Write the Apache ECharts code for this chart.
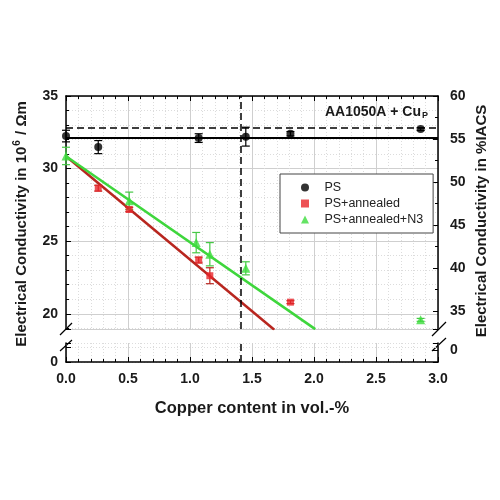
<!DOCTYPE html>
<html><head><meta charset="utf-8">
<script src="https://cdn.jsdelivr.net/npm/echarts@6/dist/echarts.min.js"></script>
<style>html,body{margin:0;padding:0;background:#fff}#c{width:500px;height:500px}</style>
</head><body><div id="c"></div>
<script>
// ---- data ----
// [copper vol.-%, conductivity 10^6/Ωm, error]
const psData  = [[0,32.24,0.4],[0.26,31.48,0.45],[1.07,32.1,0.3],[1.45,32.2,0.65],[1.81,32.4,0.15],[2.86,32.72,0.1]];
const annData = [[0.26,28.65,0.2],[0.51,27.18,0.15],[1.07,23.7,0.2],[1.16,22.62,0.55],[1.81,20.8,0.1]];
const n3Data  = [[0,30.87,0.6],[0.51,27.78,0.6],[1.05,24.9,0.7],[1.16,24.1,0.8],[1.45,23.13,0.45],[2.86,19.58,0.1]];
const annFit = [[0,30.85],[1.68,18.9]];
const n3Fit  = [[0,30.85],[2.01,18.94]];
const psMean = 32.13;
const psRef = 32.82;
const cuLimit = 1.41;
const seriesNames = ['PS','PS+annealed','PS+annealed+N3'];
const xLabelDigits = 1;

// ---- layout ----
const FONT = "'Liberation Sans', Arial, sans-serif";
const gL = 66, gR = 438, gT = 96, gB1 = 329, gT2 = 343, gB = 362;

const chart = echarts.init(document.getElementById('c'));

function errRender(color){
  return function(params, api){
    const x = api.value(0), y = api.value(1), e = api.value(2);
    const t = api.coord([x, y + e]), b = api.coord([x, y - e]);
    const w = 4, st = {stroke: color, lineWidth: 1.2};
    return {type:'group', children:[
      {type:'line', shape:{x1:t[0],y1:t[1],x2:b[0],y2:b[1]}, style:st},
      {type:'line', shape:{x1:t[0]-w,y1:t[1],x2:t[0]+w,y2:t[1]}, style:st},
      {type:'line', shape:{x1:b[0]-w,y1:b[1],x2:b[0]+w,y2:b[1]}, style:st}
    ]};
  };
}

const axisLine = {show:true, onZero:false, lineStyle:{color:'#000', width:1.5}};
const tick = {show:true, inside:true, length:5, lineStyle:{color:'#000', width:1}};
const minorTickX = {show:true, splitNumber:5, length:3, lineStyle:{color:'#000', width:1}};
const split = {show:true, lineStyle:{color:'#cfcfcf', width:1}};
const minorSplit = {show:true, lineStyle:{color:'#dcdcdc', width:1, type:[1,2]}};
const labelStyle = {fontSize:14, fontWeight:'bold', color:'#1a1a1a', fontFamily:FONT};

const option = {
  animation:false,
  backgroundColor:'#fff',
  grid:[
    {left:gL, top:gT, width:gR-gL, height:gB1-gT},
    {left:gL, top:gT2, width:gR-gL, height:gB-gT2}
  ],
  xAxis:[
    {gridIndex:0, type:'value', min:0, max:3, interval:0.5, position:'top',
     axisLine, axisTick:tick, minorTick:minorTickX, axisLabel:{show:false},
     splitLine:split, minorSplitLine:minorSplit},
    {gridIndex:1, type:'value', min:0, max:3, interval:0.5, position:'bottom',
     axisLine, axisTick:tick, minorTick:minorTickX,
     axisLabel:Object.assign({margin:10, formatter:v=>v.toFixed(xLabelDigits)}, labelStyle),
     splitLine:split, minorSplitLine:minorSplit}
  ],
  yAxis:[
    {gridIndex:0, type:'value', position:'left', min:18.95, max:35, splitNumber:3,
     axisLine, axisTick:tick, minorTick:{show:true, splitNumber:5, length:3, lineStyle:{color:'#000'}},
     axisLabel:Object.assign({margin:8, showMinLabel:false}, labelStyle),
     splitLine:split, minorSplitLine:minorSplit},
    {gridIndex:0, type:'value', position:'right', min:32.9, max:60, splitNumber:5,
     axisLine, axisTick:tick, minorTick:{show:true, splitNumber:2, length:3, lineStyle:{color:'#000'}},
     axisLabel:Object.assign({margin:12, showMinLabel:false}, labelStyle),
     splitLine:{show:false}},
    {gridIndex:1, type:'value', position:'left', min:0, max:1.3, splitNumber:1,
     axisLine, axisTick:tick,
     axisLabel:Object.assign({margin:8, formatter:v=>v===0?'0':''}, labelStyle),
     splitLine:{show:true, lineStyle:{color:'#dcdcdc', type:[1,2]}}},
    {gridIndex:1, type:'value', position:'right', min:-1.4, max:0.81, splitNumber:1,
     axisLine, axisTick:tick,
     axisLabel:Object.assign({margin:12, formatter:v=>v===0?'0':''}, labelStyle),
     splitLine:{show:false}}
  ],
  legend:{
    data:seriesNames, orient:'vertical', left:280, top:174,
    itemWidth:8, itemHeight:8, itemGap:3, padding:[7,10,7,21],
    borderColor:'#444', borderWidth:1, backgroundColor:'#fff',
    formatter:n=>'   '+n,
    textStyle:{fontSize:12.5, color:'#222', fontFamily:FONT, lineHeight:13}
  },
  series:[
    {type:'line', xAxisIndex:0, yAxisIndex:0, data:annFit, symbol:'none', z:2,
     lineStyle:{color:'#b8261f', width:2.5}},
    {type:'line', xAxisIndex:0, yAxisIndex:0, data:n3Fit, symbol:'none', z:2,
     lineStyle:{color:'#3ed63c', width:2.5}},
    {type:'line', xAxisIndex:0, yAxisIndex:0, data:[], z:3,
     markLine:{silent:true, symbol:'none', label:{show:false},
       data:[
         {yAxis:psMean, lineStyle:{color:'#000', width:2, type:'solid'}},
         {yAxis:psRef, lineStyle:{color:'#000', width:1.5, type:[7,4]}},
         {xAxis:cuLimit, lineStyle:{color:'#000', width:1.5, type:[7,4]}}
       ]}},
    {type:'line', xAxisIndex:1, yAxisIndex:2, data:[], z:3,
     markLine:{silent:true, symbol:'none', label:{show:false},
       data:[{xAxis:cuLimit, lineStyle:{color:'#000', width:1.5, type:[7,4]}}]}},
    {type:'custom', xAxisIndex:0, yAxisIndex:0, data:psData, renderItem:errRender('#000'), encode:{x:0,y:1}, z:4},
    {type:'custom', xAxisIndex:0, yAxisIndex:0, data:annData, renderItem:errRender('#b8261f'), encode:{x:0,y:1}, z:4},
    {type:'custom', xAxisIndex:0, yAxisIndex:0, data:n3Data, renderItem:errRender('#46c846'), encode:{x:0,y:1}, z:4},
    {name:seriesNames[0], type:'scatter', xAxisIndex:0, yAxisIndex:0, data:psData, symbol:'circle', symbolSize:8,
     itemStyle:{color:'#000'}, z:5},
    {name:seriesNames[1], type:'scatter', xAxisIndex:0, yAxisIndex:0, data:annData, symbol:'rect', symbolSize:7,
     itemStyle:{color:'#e8262b'}, z:5},
    {name:seriesNames[2], type:'scatter', xAxisIndex:0, yAxisIndex:0, data:n3Data, symbol:'triangle', symbolSize:9,
     itemStyle:{color:'#3ddc3d'}, z:6}
  ],
  graphic:[
    // axis-break slashes
    {type:'line', shape:{x1:gL-6,y1:gB1+6,x2:gL+6,y2:gB1-6}, style:{stroke:'#000', lineWidth:1.2}},
    {type:'line', shape:{x1:gL-6,y1:gT2+8,x2:gL+6,y2:gT2-3}, style:{stroke:'#000', lineWidth:1.2}},
    {type:'line', shape:{x1:gR-6,y1:gB1+7,x2:gR+8,y2:gB1-7}, style:{stroke:'#000', lineWidth:1.2}},
    {type:'line', shape:{x1:gR-6,y1:gT2+8,x2:gR+8,y2:gT2-5}, style:{stroke:'#000', lineWidth:1.2}},
    // annotation
    {type:'text', x:428, y:112, z:10, style:{
      text:'{a|AA1050A + Cu}{b|P}', align:'right', verticalAlign:'middle',
      rich:{a:{fontSize:14, fontWeight:'bold', fontFamily:FONT, fill:'#1a1a1a'},
            b:{fontSize:9, fontWeight:'bold', fontFamily:FONT, fill:'#1a1a1a', padding:[8,0,0,1]}}}},
    // axis names
    {type:'text', x:22, y:224, rotation:Math.PI/2, style:{
      text:'{n|Electrical Conductivity in 10}{s|6}{n| / Ωm}', align:'center', verticalAlign:'middle',
      rich:{n:{fontSize:15, fontWeight:'bold', fontFamily:FONT, fill:'#1a1a1a'},
            s:{fontSize:10, fontWeight:'bold', fontFamily:FONT, fill:'#1a1a1a', padding:[0,1,9,1]}}}},
    {type:'text', x:482, y:221, rotation:Math.PI/2, style:{
      text:'Electrical Conductivity in %IACS', align:'center', verticalAlign:'middle',
      fontSize:15, fontWeight:'bold', fontFamily:FONT, fill:'#1a1a1a'}},
    {type:'text', x:252, y:408, style:{
      text:'Copper content in vol.-%', align:'center', verticalAlign:'middle',
      fontSize:16.5, fontWeight:'bold', fontFamily:FONT, fill:'#1a1a1a'}}
  ]
};
chart.setOption(option);
</script></body></html>
